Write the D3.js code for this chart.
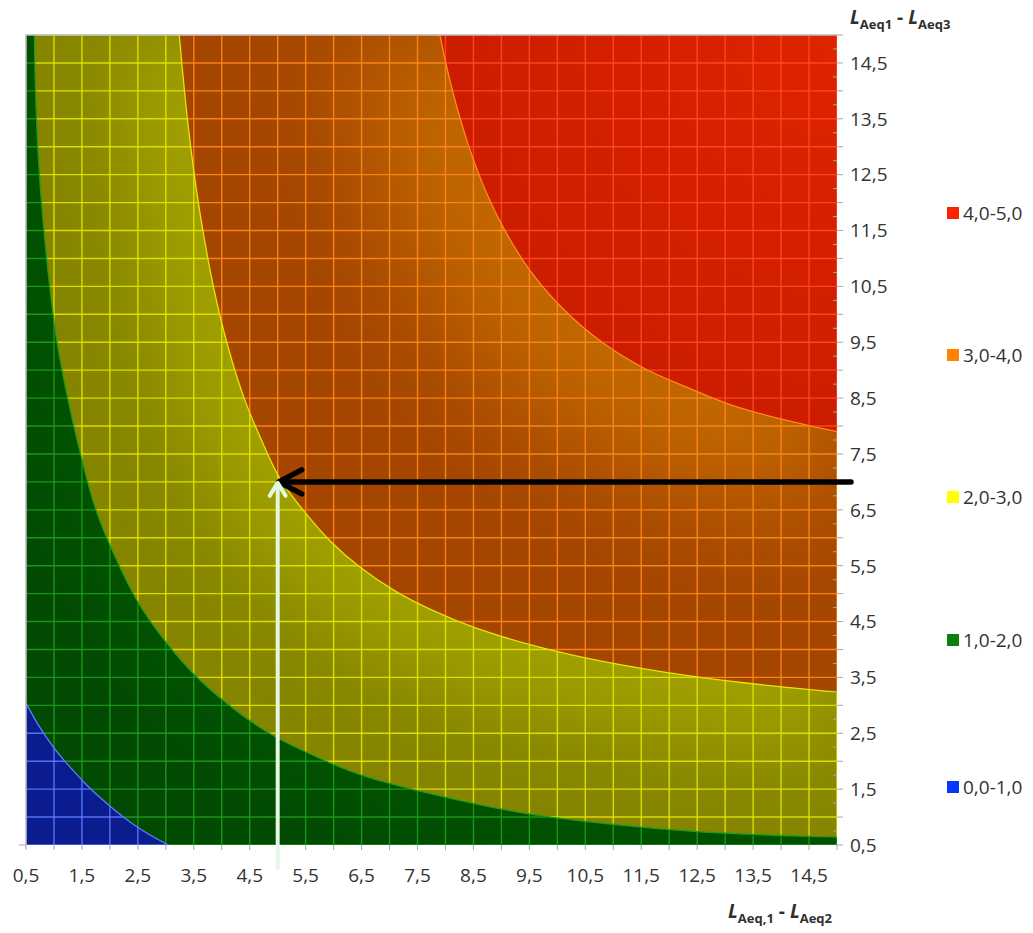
<!DOCTYPE html>
<html><head><meta charset="utf-8">
<script src="https://cdn.jsdelivr.net/npm/d3@7"></script>
<style>body{margin:0;background:#fff}</style>
</head><body><svg id="c" width="1033" height="933"></svg>
<script>
// ---- data ----
const legendLabels = ["0,0-1,0","1,0-2,0","2,0-3,0","3,0-4,0","4,0-5,0"];
const legendColors = ["#0a35ff","#0b800b","#ffff00","#ff8300","#ff2200"];
const bandBase  = ["#0b1c8e","#024a02","#858500","#a54600","#c61a00"];
const bandLight = ["#0b1c8e","#055305","#a0a000","#c26800","#de2400"];
const gridColors = ["#5a7cff","#1e9c1e","#e6e600","#ff8a1a","#ff4a26"];

const xTickValues = [0.5,1.5,2.5,3.5,4.5,5.5,6.5,7.5,8.5,9.5,10.5,11.5,12.5,13.5,14.5];
const xTickLabels = ["0,5","1,5","2,5","3,5","4,5","5,5","6,5","7,5","8,5","9,5","10,5","11,5","12,5","13,5","14,5"];
const yTickValues = [0.5,1.5,2.5,3.5,4.5,5.5,6.5,7.5,8.5,9.5,10.5,11.5,12.5,13.5,14.5];
const yTickLabels = ["0,5","1,5","2,5","3,5","4,5","5,5","6,5","7,5","8,5","9,5","10,5","11,5","12,5","13,5","14,5"];
const gridValues = [0.5,1,1.5,2,2.5,3,3.5,4,4.5,5,5.5,6,6.5,7,7.5,8,8.5,9,9.5,10,10.5,11,11.5,12,12.5,13,13.5,14,14.5,15];

// contour boundaries (x, y)
const contour1 = [[0.5,3.04],[0.75,2.6],[1.0,2.24],[1.3,1.88],[1.58,1.58],[1.88,1.3],[2.24,1.0],[2.6,0.75],[3.04,0.5]];
const contour2 = [[0.65,15],[0.67,14],[0.74,12.5],[0.87,11],[1.04,9.6],[1.22,8.62],[1.45,7.6],[1.75,6.5],[2.12,5.6],[2.5,4.85],[2.95,4.2],[3.53,3.53],[4.2,2.95],[4.85,2.5],[5.6,2.12],[6.5,1.75],[7.6,1.45],[8.62,1.22],[9.6,1.04],[11,0.87],[12.5,0.74],[14,0.67],[15,0.64]];
const contour3 = [[3.24,15],[3.4,13.37],[3.6,11.88],[3.85,10.5],[4.1,9.46],[4.4,8.5],[4.7,7.77],[5.04,7.06],[5.5,6.44],[5.96,5.92],[6.44,5.5],[7.11,5.04],[7.77,4.7],[8.5,4.4],[9.46,4.1],[10.5,3.85],[11.88,3.6],[13.37,3.4],[15,3.24]];
const contour4 = [[7.9,15],[8.1,14.1],[8.4,13.06],[8.7,12.25],[9.03,11.56],[9.5,10.8],[10.1,10.1],[10.8,9.5],[11.56,9.03],[12.3,8.7],[13.1,8.38],[14.1,8.1],[15,7.9]];
const contours = [contour1, contour2, contour3, contour4];

const arrowPoint = [5.0, 7.0];
const blackArrowTailX = 15.25;
const whiteArrowTailY = 0.09;

// ---- layout ----
const svg = d3.select("#c");
const x = d3.scaleLinear().domain([0.5,15]).range([26,837]);
const y = d3.scaleLinear().domain([0.5,15]).range([845,35]);
const defs = svg.append("defs");

const curve = d3.line().x(d=>x(d[0])).y(d=>y(d[1])).curve(d3.curveCatmullRom.alpha(0.5));
const fullRegion = "M"+x(0.5)+","+y(0.5)+"L"+x(15)+","+y(0.5)+"L"+x(15)+","+y(15)+"L"+x(0.5)+","+y(15)+"Z";
function regionAbove(c){
  const s=c[0], e=c[c.length-1];
  const extra=[[15,e[1]],[15,15],[0.5,15],[0.5,s[1]]];
  return curve(c) + extra.map(p=>"L"+x(p[0])+","+y(p[1])).join("") + "Z";
}
const regions = [fullRegion].concat(contours.map(regionAbove));

regions.forEach((d,i)=>{
  defs.append("clipPath").attr("id","clip"+i).append("path").attr("d",d);
});
const blurStd = [0, 30, 40, 55];
blurStd.forEach((s,i)=>{
  if(!s) return;
  const f = defs.append("filter").attr("id","blur"+i).attr("filterUnits","userSpaceOnUse")
    .attr("x",-300).attr("y",-300).attr("width",1633).attr("height",1533);
  f.append("feGaussianBlur").attr("stdDeviation",s);
});
const rg = defs.append("radialGradient").attr("id","redGrad").attr("gradientUnits","userSpaceOnUse")
  .attr("cx",x(15)).attr("cy",y(15)).attr("r",520);
rg.append("stop").attr("offset",0).attr("stop-color",bandLight[4]);
rg.append("stop").attr("offset",1).attr("stop-color",bandBase[4]);

const glowWidth = [0, 70, 130, 190];
const plot = svg.append("g");
regions.forEach((d,i)=>{
  plot.append("path").attr("d",d).attr("fill", i===4 ? "url(#redGrad)" : bandBase[i]);
  if(i>0 && i<4){
    plot.append("g").attr("clip-path","url(#clip"+i+")")
      .append("path").attr("d",curve(contours[i])).attr("fill","none")
      .attr("stroke",bandLight[i]).attr("stroke-width",glowWidth[i]).attr("filter","url(#blur"+i+")");
  }
  const gg = plot.append("g").attr("clip-path","url(#clip"+i+")")
    .attr("stroke",gridColors[i]).attr("stroke-width",1.4).attr("stroke-opacity",0.9);
  gg.selectAll(".v").data(gridValues).join("line")
    .attr("x1",d=>x(d)).attr("x2",d=>x(d)).attr("y1",y(0.5)).attr("y2",y(15));
  gg.selectAll(".h").data(gridValues).join("line")
    .attr("y1",d=>y(d)).attr("y2",d=>y(d)).attr("x1",x(0.5)).attr("x2",x(15));
});
// contour boundary lines
contours.forEach((c,i)=>{
  plot.append("path").attr("d",curve(c)).attr("fill","none")
    .attr("stroke",gridColors[i]).attr("stroke-width",1.3);
});
// frame top/left
svg.append("path").attr("d","M"+x(0.5)+","+y(0.5)+"V"+y(15)+"H"+x(15))
  .attr("fill","none").attr("stroke","#b8b8b8").attr("stroke-width",1.5);

// ---- axes ----
const font = "'Open Sans', 'Liberation Sans', sans-serif";
const ax = svg.append("g").attr("stroke","#a8a8a8").attr("stroke-width",1);
ax.selectAll(".xt").data(gridValues).join("line")
  .attr("x1",d=>x(d)).attr("x2",d=>x(d)).attr("y1",y(0.5)).attr("y2",y(0.5)+5);
ax.selectAll(".yt").data(gridValues).join("line")
  .attr("y1",d=>y(d)).attr("y2",d=>y(d)).attr("x1",x(15)).attr("x2",x(15)+6);
ax.selectAll(".ytm").data(d3.range(0.75,15,0.5)).join("line")
  .attr("y1",d=>y(d)).attr("y2",d=>y(d)).attr("x1",x(15)-4).attr("x2",x(15));
ax.append("line").attr("x1",x(0.5)-7).attr("x2",x(0.5)).attr("y1",y(0.5)).attr("y2",y(0.5));

svg.append("g").selectAll("text").data(xTickValues).join("text")
  .attr("x",d=>x(d)).attr("y",y(0.5)+37).attr("text-anchor","middle")
  .attr("font-family",font).attr("font-size",19).attr("fill","#333")
  .text((d,i)=>xTickLabels[i]);
svg.append("g").selectAll("text").data(yTickValues).join("text")
  .attr("x",x(15)+13).attr("y",d=>y(d)).attr("dy","0.36em")
  .attr("font-family",font).attr("font-size",19).attr("fill","#333")
  .text((d,i)=>yTickLabels[i]);

// axis titles
function title(tx, ty, sub1, sub2){
  const t = svg.append("text").attr("x",tx).attr("y",ty).attr("font-family",font)
    .attr("font-weight","bold").attr("fill","#303030").attr("font-size",19);
  t.append("tspan").attr("font-style","italic").text("L");
  t.append("tspan").attr("font-size",13).attr("dy",5).text(sub1);
  t.append("tspan").attr("dy",-5).text(" - ");
  t.append("tspan").attr("font-style","italic").text("L");
  t.append("tspan").attr("font-size",13).attr("dy",5).text(sub2);
}
title(850, 24, "Aeq1", "Aeq3");
title(728, 918, "Aeq,1", "Aeq2");

// ---- legend ----
const legendY = [787, 640, 497, 355, 213];
const lg = svg.append("g");
legendLabels.forEach((l,i)=>{
  lg.append("rect").attr("x",947).attr("y",legendY[i]-6).attr("width",12).attr("height",12).attr("fill",legendColors[i]);
  lg.append("text").attr("x",963).attr("y",legendY[i]).attr("dy","0.36em")
    .attr("font-family",font).attr("font-size",19).attr("fill","#333").text(l);
});

// ---- arrows ----
const px = x(arrowPoint[0]), py = y(arrowPoint[1]);
const ar = svg.append("g").attr("fill","none").attr("stroke-linecap","round").attr("stroke-linejoin","round");
ar.append("line").attr("x1",x(blackArrowTailX)).attr("x2",px+2).attr("y1",py).attr("y2",py)
  .attr("stroke","#000").attr("stroke-width",5.5);
ar.append("path").attr("d","M"+(px+24)+","+(py-12)+"L"+(px+1)+","+py+"L"+(px+24)+","+(py+12))
  .attr("stroke","#000").attr("stroke-width",5.5);
ar.append("line").attr("x1",px).attr("x2",px).attr("y1",y(whiteArrowTailY)).attr("y2",py+2)
  .attr("stroke","#e2f8e2").attr("stroke-width",4);
ar.append("path").attr("d","M"+(px-8)+","+(py+14)+"L"+px+","+(py+1)+"L"+(px+8)+","+(py+14))
  .attr("stroke","#e2f8e2").attr("stroke-width",4);
</script>
</body></html>
